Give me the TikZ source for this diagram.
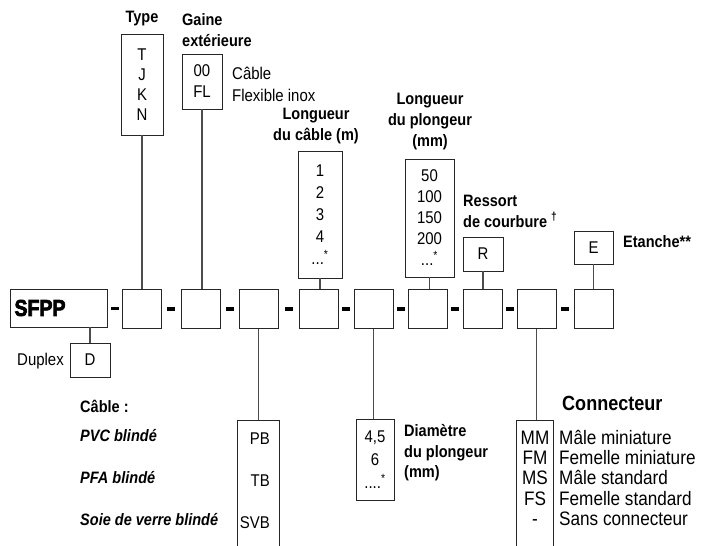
\documentclass[tikz,border=0pt]{standalone}
\usepackage{fontspec}
\setmainfont{Liberation Sans}
\newfontfamily\narrowfont{Liberation Sans}[FakeStretch=0.88]
\newfontfamily\sfppfont{Liberation Sans}[FakeStretch=0.85,FakeBold=3]
\usetikzlibrary{calc}

\begin{document}
\begin{tikzpicture}[x=1pt,y=-1pt,
  cell/.style={draw=black!85,line width=0.9pt,minimum width=39pt,minimum height=39pt,inner sep=0pt},
  codebox/.style={draw=black!85,line width=0.9pt,inner sep=0pt,align=center,
    font=\narrowfont\fontsize{17}{21}\selectfont},
  title/.style={inner sep=0pt,font=\narrowfont\bfseries\fontsize{16.5}{21}\selectfont},
  ititle/.style={inner sep=0pt,font=\narrowfont\bfseries\itshape\fontsize{16.5}{21}\selectfont},
  plain/.style={inner sep=0pt,font=\narrowfont\fontsize{17}{22}\selectfont},
  biglist/.style={inner sep=0pt,font=\narrowfont\fontsize{19.5}{20}\selectfont},
  link/.style={draw=black!70,line width=1.1pt}]
\clip (0,0) rectangle (707,546);

%draw main reference row
\node[cell,minimum width=97pt,minimum height=38pt,text width=88pt,align=left] (sfpp) at (58.5,308)
  {\sfppfont\bfseries\fontsize{23}{23}\selectfont SFPP};
\foreach \x [count=\i] in {141.5,200.5,258.5,318.5,373.5,427.5,482.5,536.5,593.5}
  \node[cell] (b\i) at (\x,309) {};

%draw dashes between the cells
\foreach \a/\b in {sfpp/b1,b1/b2,b2/b3,b3/b4,b4/b5,b5/b6,b6/b7,b7/b8,b8/b9}
  \fill ($(\a.east)!0.5!(\b.west)$) +(-4,-1.8) rectangle +(4,1.8);

%draw option boxes above
\node[codebox,minimum width=42pt,minimum height=101pt,font=\narrowfont\fontsize{17}{20}\selectfont] (type) at (142,84.5) {T\\J\\K\\N};
\node[codebox,minimum width=40pt,minimum height=55pt] (gaine) at (202,81.5) {00\\FL};
\node[codebox,minimum width=44pt,minimum height=127pt,font=\narrowfont\fontsize{17}{22}\selectfont] (lcable) at (320,214.5)
  {1\\2\\3\\4\\...\textsuperscript{*}};
\node[codebox,minimum width=49pt,minimum height=118pt] (lplong) at (429.5,218)
  {50\\100\\150\\200\\...\textsuperscript{*}};
\node[codebox,minimum width=40pt,minimum height=34pt] (ressort) at (483,254) {R};
\node[codebox,minimum width=39pt,minimum height=33pt] (etanche) at (593.5,247.5) {E};

%draw option boxes below
\node[codebox,minimum width=40pt,minimum height=34pt] (duplex) at (90,360) {D};
\node[codebox,minimum width=38pt,minimum height=81pt,font=\narrowfont\fontsize{17}{23}\selectfont] (diam) at (375,459.5)
  {4,5\\6\\....\textsuperscript{*}};
\node[cell,minimum width=42pt,minimum height=140pt,anchor=north] (cable) at (258,420) {};
\node[cell,minimum width=37pt,minimum height=140pt,anchor=north] (conn) at (534.5,420) {};

%draw connectors
\draw[link] (type.south) -- (type.south |- b1.north);
\draw[link] (gaine.south) -- (gaine.south |- b2.north);
\draw[link] (lcable.south) -- (lcable.south |- b4.north);
\draw[link] (lplong.south) -- (lplong.south |- b6.north);
\draw[link] (ressort.south) -- (ressort.south |- b7.north);
\draw[link] (etanche.south) -- (etanche.south |- b9.north);
\draw[link] (duplex.north) -- (duplex.north |- sfpp.south);
\draw[link] (b3.south) -- (b3.south |- cable.north);
\draw[link] (b5.south) -- (b5.south |- diam.north);
\draw[link] (b8.south) -- (b8.south |- conn.north);

%labels
\node[title] (ltype) at (142,19) {Type};
\node[title,align=left,anchor=west] (lgaine) at (182,30.5) {Gaine\\extérieure};
\node[plain,align=left,anchor=west] (lgainev) at (232,84) {Câble\\Flexible inox};
\node[title,align=center] (llcable) at (316,126) {Longueur\\du câble (m)};
\node[title,align=center] (llplong) at (430,121.5) {Longueur\\du plongeur\\(mm)};
\node[title,align=left,anchor=west] (lressort) at (463,211) {Ressort\\de courbure \textsuperscript{†}};
\node[title,anchor=west] (letanche) at (623,242) {Etanche**};
\node[plain,anchor=east] (lduplex) at (64,361) {Duplex};
\node[title,align=left,anchor=west,font=\narrowfont\bfseries\fontsize{16.5}{20.5}\selectfont] (ldiam) at (404,453) {Diamètre\\du plongeur\\(mm)};
\node[title,anchor=west] (lcable) at (80,406) {Câble :};
\node[title,anchor=west,font=\narrowfont\bfseries\fontsize{20.5}{22}\selectfont] (lconn) at (562,403) {Connecteur};

%cable list
\foreach \code/\desc [count=\i] in {PB/PVC blindé,TB/PFA blindé,SVB/Soie de verre blindé}{
  \node[plain,anchor=east] (cc\i) at (270,397+42*\i) {\code};
  \node[ititle,anchor=west] (cd\i) at (80,394+42*\i) {\desc};
}

%connector list
\foreach \code/\desc [count=\i] in {MM/Mâle miniature,FM/Femelle miniature,MS/Mâle standard,FS/Femelle standard,-/Sans connecteur}{
  \node[biglist,anchor=base] (cn\i) at (535,423.8+20.3*\i) {\code};
  \node[biglist,anchor=base west] (cl\i) at (559,423.8+20.3*\i) {\desc};
}
\end{tikzpicture}
\end{document}
